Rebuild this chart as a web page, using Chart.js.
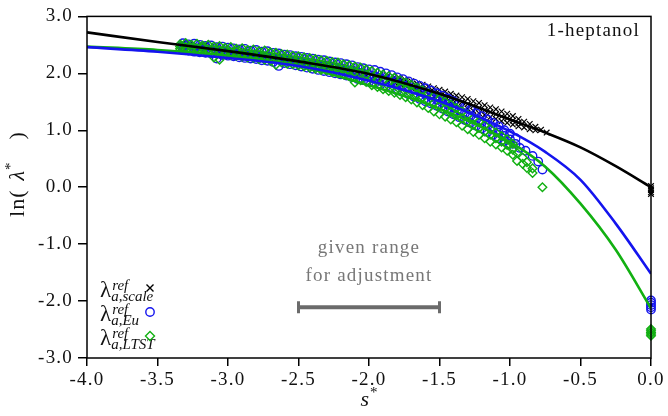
<!DOCTYPE html>
<html>
<head>
<meta charset="utf-8">
<script src="https://cdn.jsdelivr.net/npm/chart.js@4/dist/chart.umd.min.js"></script>
<style>html,body{margin:0;padding:0;background:#fff}</style>
</head>
<body>
<div style="width:668px;height:416px"><canvas id="c" width="668" height="416"></canvas></div>
<script>
// ---- fitted curves, read at fixed s* positions ----
const sLine = [-4, -3.5, -3, -2.5, -2, -1.5, -1, -0.75, -0.5, -0.25, 0];
const scaleFit = [2.72, 2.55, 2.39, 2.21, 1.99, 1.64, 1.19, 0.96, 0.70, 0.37, 0.0];
const euFit = [2.46, 2.38, 2.27, 2.13, 1.87, 1.51, 0.98, 0.62, 0.13, -0.64, -1.52];
const ltstFit = [2.47, 2.41, 2.31, 2.13, 1.79, 1.38, 0.79, 0.36, -0.29, -1.10, -2.13];

// ---- reference points: rows of [s*, ln(lambda*) values at that s*] ----
const scaleRows = [
  [-3.32,2.53,2.47],[-3.27,2.51,2.46],[-3.22,2.49,2.44],[-3.17,2.48,2.43],[-3.12,2.46,2.41],[-3.07,2.45,2.39],
  [-3.02,2.43,2.38],[-2.97,2.41,2.36],[-2.92,2.40,2.35],[-2.87,2.38,2.33],[-2.82,2.36,2.31],[-2.77,2.35,2.30],
  [-2.72,2.33,2.28],[-2.67,2.31,2.26],[-2.62,2.29,2.24],[-2.57,2.27,2.22],[-2.52,2.25,2.20],[-2.47,2.23,2.18],
  [-2.42,2.21,2.16],[-2.37,2.19,2.14],[-2.32,2.17,2.12],[-2.27,2.14,2.09],[-2.22,2.12,2.07],[-2.17,2.10,2.04],
  [-2.12,2.07,2.02],[-2.07,2.05,1.99],[-2.02,2.03,1.96],[-1.97,2.00,1.94],[-1.92,1.97,1.91],[-1.87,1.95,1.88],
  [-1.82,1.93,1.84,1.88],[-1.78,1.91,1.81,1.85],[-1.74,1.88,1.78,1.83],[-1.70,1.86,1.74,1.79],[-1.66,1.82,1.70,1.77],
  [-1.62,1.80,1.66,1.73],[-1.58,1.77,1.63,1.70],[-1.54,1.74,1.59,1.67],[-1.50,1.71,1.56,1.64],[-1.46,1.68,1.52,1.61],
  [-1.42,1.64,1.49,1.57],[-1.38,1.61,1.45,1.54],[-1.34,1.58,1.41,1.50],[-1.30,1.55,1.38,1.46],[-1.26,1.51,1.34,1.43],
  [-1.22,1.48,1.30,1.39],[-1.18,1.44,1.27,1.35],[-1.14,1.40,1.23,1.32],[-1.10,1.37,1.20,1.28],[-1.06,1.33,1.16,1.24],
  [-1.02,1.29,1.13,1.21],[-0.98,1.25,1.10,1.17],[-0.94,1.20,1.07,1.13],[-0.90,1.15,1.05],[-0.86,1.11,1.02],
  [-0.82,1.06,1.00],[-0.78,1.01],[-0.74,0.96],
  [0,0.02,-0.02,-0.05,-0.09,-0.12]];

const euRows = [
  [-3.32,2.53,2.47,2.41],[-3.28,2.51,2.45,2.40],[-3.24,2.52,2.44,2.38],[-3.20,2.50,2.43,2.37],[-3.16,2.48,2.42,2.36],
  [-3.12,2.49,2.41,2.35],[-3.08,2.46,2.40,2.26],[-3.04,2.47,2.38,2.32],[-3.00,2.45,2.37,2.31],[-2.96,2.44,2.36,2.30],
  [-2.92,2.42,2.35,2.28],[-2.88,2.43,2.34,2.27],[-2.84,2.40,2.33,2.26],[-2.80,2.41,2.31,2.25],[-2.76,2.38,2.30,2.23],
  [-2.72,2.39,2.29,2.22],[-2.68,2.36,2.27,2.20],[-2.64,2.35,2.26,2.13],[-2.60,2.33,2.25,2.18],[-2.56,2.32,2.23,2.16],
  [-2.52,2.30,2.22,2.14],[-2.48,2.29,2.20,2.12],[-2.44,2.27,2.19,2.10],[-2.40,2.26,2.17,2.08],[-2.36,2.24,2.15,2.06],
  [-2.32,2.23,2.14,2.04],[-2.28,2.21,2.12,2.02],[-2.24,2.19,2.10,2.00],[-2.20,2.18,2.08,1.98],[-2.16,2.16,2.06,1.96],
  [-2.12,2.14,2.04,1.93],[-2.08,2.11,2.02,1.90],[-2.04,2.09,1.99,1.88],[-2.00,2.07,1.97,1.85],
  [-1.96,2.06,1.95,1.83],[-1.92,2.03,1.92,1.80],[-1.88,2.00,1.89,1.77],[-1.84,1.97,1.86,1.74],[-1.80,1.93,1.82,1.70],
  [-1.76,1.90,1.79,1.67],[-1.72,1.86,1.75,1.63],[-1.68,1.82,1.71,1.59],[-1.64,1.78,1.67,1.55],[-1.60,1.74,1.63,1.51],
  [-1.56,1.70,1.58,1.47],[-1.52,1.65,1.54,1.43],[-1.48,1.61,1.49,1.38],[-1.44,1.56,1.45,1.33],[-1.40,1.51,1.40,1.28],
  [-1.36,1.46,1.35,1.23],[-1.32,1.41,1.30,1.18],[-1.28,1.36,1.25,1.13],[-1.24,1.30,1.19,1.08],[-1.20,1.25,1.14,1.03],
  [-1.16,1.19,1.08,0.97],[-1.12,1.13,1.02,0.92],[-1.08,1.07,0.96,0.86],[-1.04,1.00,0.90,0.81],[-1.00,0.94,0.84,0.76],
  [-0.96,0.86,0.76],[-0.93,0.69],[-0.89,0.64],[-0.84,0.55],[-0.80,0.45],[-0.77,0.31],
  [0,-1.99,-2.03,-2.07,-2.11,-2.15]];

const ltstRows = [
  [-3.34,2.51,2.47,2.43],[-3.30,2.53,2.46,2.41],[-3.26,2.50,2.45,2.40],[-3.22,2.52,2.44,2.39],[-3.18,2.49,2.45,2.38],
  [-3.14,2.50,2.42,2.37],[-3.10,2.47,2.41,2.28],[-3.06,2.48,2.40,2.24],[-3.02,2.45,2.39,2.34],[-2.98,2.46,2.37,2.32],
  [-2.94,2.43,2.38,2.31],[-2.90,2.44,2.35,2.29],[-2.86,2.41,2.34,2.28],[-2.82,2.42,2.33,2.27],[-2.78,2.39,2.32,2.25],
  [-2.74,2.40,2.30,2.24],[-2.70,2.37,2.29,2.22],[-2.66,2.36,2.28,2.15],[-2.62,2.34,2.26,2.19],[-2.58,2.33,2.25,2.17],
  [-2.54,2.31,2.23,2.16],[-2.50,2.30,2.22,2.14],[-2.46,2.28,2.20,2.12],[-2.42,2.27,2.18,2.10],[-2.38,2.25,2.17,2.08],
  [-2.34,2.23,2.15,2.06],[-2.30,2.22,2.13,2.05],[-2.26,2.20,2.12,2.02],[-2.22,2.19,2.10,2.00],[-2.18,2.16,2.08,1.98],
  [-2.14,2.14,2.05,1.95],[-2.10,2.12,2.03,1.84],[-2.06,2.10,2.00,1.88],[-2.02,2.07,1.98,1.85],
  [-1.98,2.04,1.92,1.79],[-1.94,2.01,1.89,1.76],[-1.90,1.98,1.86,1.72],[-1.86,1.95,1.83,1.69],[-1.82,1.92,1.80,1.66],
  [-1.78,1.88,1.76,1.62],[-1.74,1.84,1.72,1.58],[-1.70,1.80,1.68,1.54],[-1.66,1.75,1.63,1.49],[-1.62,1.70,1.58,1.44],
  [-1.58,1.65,1.53,1.39],[-1.54,1.60,1.48,1.33],[-1.50,1.55,1.43,1.28],[-1.46,1.50,1.38,1.24],[-1.42,1.45,1.33,1.19],
  [-1.38,1.39,1.27,1.14],[-1.34,1.33,1.21,1.08],[-1.30,1.27,1.15,1.02],[-1.26,1.21,1.10,0.97],[-1.22,1.15,1.04,0.92],
  [-1.18,1.09,0.98,0.86],[-1.14,1.02,0.92,0.80],[-1.10,0.96,0.86,0.75],[-1.06,0.90,0.80,0.70],[-1.02,0.84,0.74,0.64],
  [-0.98,0.76,0.66,0.57],[-0.95,0.60,0.46],[-0.91,0.52,0.41],[-0.88,0.44,0.34],[-0.84,0.33,0.25],[-0.77,0.00],
  [0,-2.49,-2.52,-2.55,-2.58,-2.61]];

// adjustment range bar
const rangeS = [-2.5, -1.5];
const rangeV = -2.11;

const xTicks = { min: -4, max: 0, step: 0.5 };
const yTicks = { min: -3, max: 3, step: 1 };

const BLUE = '#1414ee', GREEN = '#12b012', GRAY = '#6b6b6b';
const SERIF = '"Liberation Serif", "Times New Roman", serif';
const SPACING = '1.2px';

const pts = rows => rows.flatMap(r => r.slice(1).map(v => ({ x: r[0], y: v })));
const fit = vals => sLine.map((s, i) => ({ x: s, y: vals[i] }));

function rich(ctx, parts, x, y) {
  let w = 0;
  parts.forEach(p => { if (p.f) ctx.font = p.f; p.w = p.gap != null ? p.gap : ctx.measureText(p.t).width; w += p.w; });
  let cx = x - w / 2;
  parts.forEach(p => {
    if (p.t) { ctx.font = p.f; ctx.fillText(p.t, cx, y + (p.dy || 0)); }
    cx += p.w;
  });
}

// wider letter spacing to match the reference's typeface width
const spacing = {
  id: 'spacing',
  beforeInit(chart) { chart.ctx.letterSpacing = SPACING; },
  beforeLayout(chart) { chart.ctx.letterSpacing = SPACING; },
  beforeDraw(chart) { chart.ctx.letterSpacing = SPACING; }
};

const decor = {
  id: 'decor',
  afterDatasetsDraw(chart) {
    const { ctx, chartArea: a, scales: { x, y } } = chart;
    ctx.save();
    ctx.letterSpacing = SPACING;
    ctx.strokeStyle = '#000'; ctx.lineWidth = 1.5;
    ctx.strokeRect(a.left, a.top, a.right - a.left, a.bottom - a.top);

    ctx.fillStyle = '#111';
    ctx.textAlign = 'right'; ctx.textBaseline = 'alphabetic';
    ctx.font = '19px ' + SERIF;
    ctx.fillText('1-heptanol', a.right - 11, a.top + 20);

    ctx.textAlign = 'center';
    ctx.fillStyle = '#777';
    ctx.fillText('given range', x.getPixelForValue(-2), y.getPixelForValue(-1.16));
    ctx.fillText('for adjustment', x.getPixelForValue(-2), y.getPixelForValue(-1.64));

    // legend
    ctx.letterSpacing = '0px';
    ctx.textAlign = 'left';
    ctx.fillStyle = '#111';
    const rows = [['a,scale', 'cross', '#000'], ['a,Eu', 'circle', BLUE], ['a,LTST', 'diamond', GREEN]];
    rows.forEach((r, i) => {
      const base = a.bottom - 61 + i * 24;
      const lx = a.left + 13;
      ctx.font = '23px ' + SERIF;
      ctx.fillText('λ', lx, base);
      const w = ctx.measureText('λ').width;
      ctx.font = 'italic 15px ' + SERIF;
      ctx.fillText('ref', lx + w + 1, base - 7);
      ctx.fillText(r[0], lx + w, base + 4);
      const mx = a.left + 63, my = base - 9;
      ctx.strokeStyle = r[2]; ctx.lineWidth = 1.4;
      ctx.beginPath();
      if (r[1] === 'cross') {
        ctx.moveTo(mx - 3.5, my - 3.5); ctx.lineTo(mx + 3.5, my + 3.5);
        ctx.moveTo(mx + 3.5, my - 3.5); ctx.lineTo(mx - 3.5, my + 3.5);
      } else if (r[1] === 'circle') {
        ctx.arc(mx, my, 4.2, 0, Math.PI * 2);
      } else {
        ctx.moveTo(mx, my - 4.5); ctx.lineTo(mx + 4.5, my); ctx.lineTo(mx, my + 4.5); ctx.lineTo(mx - 4.5, my); ctx.closePath();
      }
      ctx.stroke();
    });

    // axis titles
    ctx.fillStyle = '#111';
    ctx.textAlign = 'left';
    rich(ctx, [
      { t: 's', f: 'italic 22px ' + SERIF },
      { gap: 1 },
      { t: '*', f: '15px ' + SERIF, dy: -9 }
    ], (a.left + a.right) / 2, 406);

    ctx.letterSpacing = '1px';
    ctx.translate(24, 174);
    ctx.rotate(-Math.PI / 2);
    rich(ctx, [
      { t: 'ln(', f: '22px ' + SERIF },
      { gap: 9 },
      { t: 'λ', f: 'italic 22px ' + SERIF },
      { t: '*', f: '15px ' + SERIF, dy: -9 },
      { gap: 22 },
      { t: ')', f: '22px ' + SERIF }
    ], 0, 0);
    ctx.restore();
  }
};

const tickFont = { family: SERIF, size: 19 };

new Chart(document.getElementById('c'), {
  type: 'scatter',
  data: {
    datasets: [
      { data: fit(scaleFit), showLine: true, borderColor: '#000', borderWidth: 2.6, pointRadius: 0, cubicInterpolationMode: 'monotone' },
      { data: fit(euFit), showLine: true, borderColor: BLUE, borderWidth: 2.6, pointRadius: 0, cubicInterpolationMode: 'monotone' },
      { data: fit(ltstFit), showLine: true, borderColor: GREEN, borderWidth: 2.6, pointRadius: 0, cubicInterpolationMode: 'monotone' },
      { data: rangeS.map(s => ({ x: s, y: rangeV })), showLine: true, borderColor: GRAY, borderWidth: 4,
        pointStyle: 'line', rotation: 90, pointRadius: 6, pointBorderWidth: 3, pointBorderColor: GRAY },
      { data: pts(ltstRows), pointStyle: 'rectRot', pointRadius: 4.3, borderColor: GREEN, backgroundColor: 'rgba(0,0,0,0)', borderWidth: 1.4, clip: false },
      { data: pts(euRows), pointStyle: 'circle', pointRadius: 4.2, borderColor: BLUE, backgroundColor: 'rgba(0,0,0,0)', borderWidth: 1.4, clip: false },
      { data: pts(scaleRows), pointStyle: 'crossRot', pointRadius: 4, borderColor: '#000', borderWidth: 1.2, clip: false }
    ]
  },
  options: {
    responsive: false,
    animation: false,
    layout: { padding: { top: 15, right: 17, left: 0, bottom: 0 } },
    plugins: { legend: { display: false }, tooltip: { enabled: false } },
    scales: {
      x: {
        type: 'linear', min: xTicks.min, max: xTicks.max,
        afterFit(s) { s.height = 58; },
        border: { display: false },
        grid: { drawOnChartArea: false, tickLength: 8, color: '#000', lineWidth: 1.5 },
        ticks: { stepSize: xTicks.step, autoSkip: false, maxRotation: 0, padding: 3, color: '#111', font: tickFont,
          callback: v => v.toFixed(1) }
      },
      y: {
        type: 'linear', min: yTicks.min, max: yTicks.max,
        afterFit(s) { s.width = 87; },
        border: { display: false },
        grid: { drawOnChartArea: false, tickLength: 9, color: '#000', lineWidth: 1.5 },
        ticks: { stepSize: yTicks.step, autoSkip: false, padding: 5, color: '#111', font: tickFont,
          callback: v => v.toFixed(1) }
      }
    }
  },
  plugins: [spacing, decor]
});
</script>
</body>
</html>
